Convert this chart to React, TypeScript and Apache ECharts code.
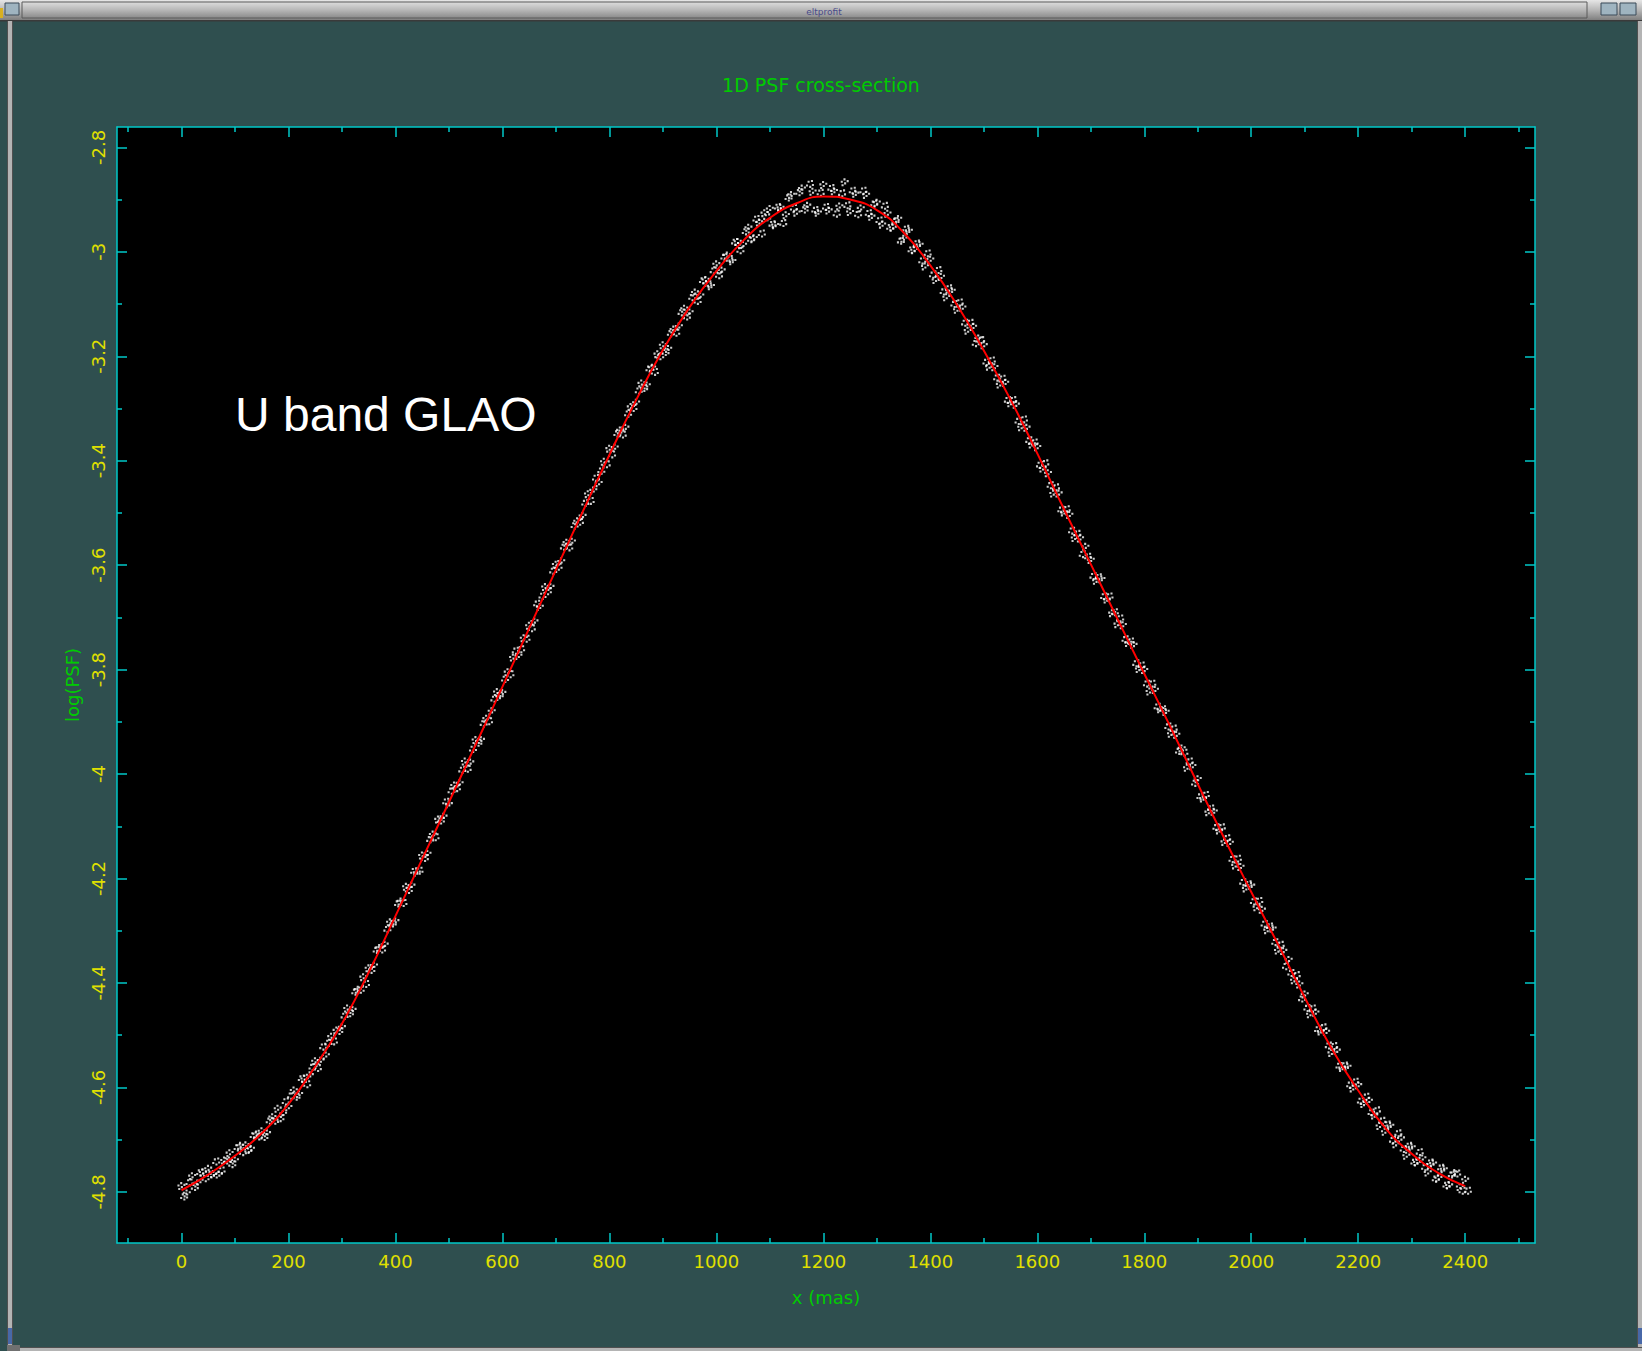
import React, { useEffect, useRef } from "react";
import * as echarts from "echarts";

// ---- axis extents and tick marks ----
const X_MIN = -120.5;
const X_MAX = 2530.5;
const Y_MIN = -4.898;
const Y_MAX = -2.761;

const xMajorTicks = [0, 200, 400, 600, 800, 1000, 1200, 1400, 1600, 1800, 2000, 2200, 2400];
const xMinorTicks = [-100, 100, 300, 500, 700, 900, 1100, 1300, 1500, 1700, 1900, 2100, 2300, 2500];
const yMajorTicks = [-4.8, -4.6, -4.4, -4.2, -4, -3.8, -3.6, -3.4, -3.2, -3, -2.8];
const yMinorTicks = [-4.7, -4.5, -4.3, -4.1, -3.9, -3.7, -3.5, -3.3, -3.1, -2.9];

// ---- fitted profile (red curve), x in mas ----
const fitX = [
  0, 50, 100, 150, 200, 250, 300, 350, 400, 450, 500, 550, 600, 650, 700, 750, 800,
  850, 900, 950, 1000, 1050, 1100, 1150, 1200, 1250, 1300, 1350, 1400, 1450, 1500,
  1550, 1600, 1650, 1700, 1750, 1800, 1850, 1900, 1950, 2000, 2050, 2100, 2150, 2200,
  2250, 2300, 2350, 2400,
];
const fitY = [
  -4.797, -4.767, -4.731, -4.688, -4.632, -4.56, -4.478, -4.38, -4.272, -4.163, -4.054,
  -3.944, -3.833, -3.721, -3.609, -3.498, -3.389, -3.284, -3.188, -3.106, -3.037, -2.979,
  -2.935, -2.907, -2.894, -2.9, -2.92, -2.963, -3.026, -3.102, -3.189, -3.283, -3.386,
  -3.493, -3.598, -3.703, -3.808, -3.912, -4.019, -4.124, -4.226, -4.326, -4.428, -4.525,
  -4.606, -4.677, -4.727, -4.764, -4.789,
];

// ---- measured samples (white points): set A at x = 0,10,..,2400; set B at x = 5,15,..,2405 ----
const SAMPLE_STEP = 10;
const samplesA = [
  -4.789, -4.803, -4.77, -4.784, -4.763,
  -4.756, -4.767, -4.767, -4.74, -4.726,
  -4.74, -4.712, -4.711, -4.718, -4.69,
  -4.684, -4.688, -4.657, -4.641, -4.651,
  -4.638, -4.606, -4.613, -4.584, -4.577,
  -4.55, -4.549, -4.539, -4.503, -4.491,
  -4.485, -4.449, -4.452, -4.413, -4.389,
  -4.372, -4.367, -4.333, -4.327, -4.284,
  -4.282, -4.244, -4.216, -4.214, -4.189,
  -4.156, -4.153, -4.116, -4.087, -4.082,
  -4.058, -4.022, -4.018, -3.976, -3.978,
  -3.935, -3.935, -3.894, -3.88, -3.843,
  -3.845, -3.805, -3.777, -3.774, -3.74,
  -3.716, -3.708, -3.68, -3.642, -3.642,
  -3.599, -3.593, -3.557, -3.555, -3.516,
  -3.506, -3.464, -3.457, -3.443, -3.402,
  -3.377, -3.375, -3.342, -3.337, -3.297,
  -3.289, -3.252, -3.256, -3.222, -3.196,
  -3.179, -3.186, -3.149, -3.143, -3.109,
  -3.116, -3.078, -3.084, -3.054, -3.066,
  -3.024, -3.036, -3.007, -3.018, -2.981,
  -2.987, -2.954, -2.974, -2.944, -2.926,
  -2.918, -2.949, -2.916, -2.93, -2.891,
  -2.925, -2.879, -2.912, -2.885, -2.925,
  -2.872, -2.921, -2.884, -2.913, -2.867,
  -2.924, -2.889, -2.917, -2.891, -2.933,
  -2.906, -2.948, -2.927, -2.954, -2.937,
  -2.975, -2.96, -2.997, -2.987, -3.028,
  -3.015, -3.054, -3.048, -3.087, -3.075,
  -3.111, -3.107, -3.151, -3.144, -3.166,
  -3.179, -3.22, -3.221, -3.254, -3.251,
  -3.29, -3.293, -3.336, -3.337, -3.369,
  -3.374, -3.415, -3.424, -3.463, -3.463,
  -3.499, -3.504, -3.548, -3.549, -3.565,
  -3.59, -3.63, -3.627, -3.666, -3.692,
  -3.713, -3.715, -3.749, -3.753, -3.799,
  -3.801, -3.842, -3.839, -3.876, -3.881,
  -3.923, -3.925, -3.951, -3.988, -3.985,
  -4.01, -4.047, -4.073, -4.072, -4.108,
  -4.13, -4.132, -4.175, -4.178, -4.219,
  -4.214, -4.255, -4.26, -4.299, -4.296,
  -4.338, -4.339, -4.356, -4.395, -4.403,
  -4.422, -4.46, -4.457, -4.493, -4.494,
  -4.534, -4.53, -4.563, -4.561, -4.602,
  -4.596, -4.632, -4.626, -4.654, -4.674,
  -4.685, -4.674, -4.709, -4.698, -4.731,
  -4.715, -4.744, -4.736, -4.763, -4.746,
  -4.774, -4.757, -4.788, -4.764, -4.791,
  -4.777,
];
const samplesB = [
  -4.809, -4.782, -4.791, -4.763, -4.774,
  -4.766, -4.742, -4.759, -4.74, -4.747,
  -4.715, -4.724, -4.72, -4.692, -4.694,
  -4.695, -4.664, -4.664, -4.659, -4.627,
  -4.616, -4.618, -4.583, -4.594, -4.561,
  -4.563, -4.522, -4.515, -4.512, -4.492,
  -4.463, -4.458, -4.417, -4.413, -4.402,
  -4.375, -4.337, -4.336, -4.297, -4.286,
  -4.248, -4.247, -4.222, -4.186, -4.185,
  -4.161, -4.125, -4.121, -4.089, -4.053,
  -4.032, -4.027, -3.992, -3.99, -3.952,
  -3.94, -3.903, -3.899, -3.856, -3.849,
  -3.818, -3.809, -3.764, -3.761, -3.741,
  -3.721, -3.674, -3.659, -3.65, -3.611,
  -3.603, -3.565, -3.566, -3.524, -3.517,
  -3.481, -3.477, -3.433, -3.419, -3.407,
  -3.388, -3.348, -3.35, -3.31, -3.299,
  -3.266, -3.261, -3.224, -3.23, -3.2,
  -3.192, -3.156, -3.155, -3.116, -3.124,
  -3.087, -3.094, -3.055, -3.062, -3.036,
  -3.045, -3.01, -3.014, -2.981, -2.997,
  -2.961, -2.976, -2.937, -2.965, -2.934,
  -2.947, -2.914, -2.945, -2.896, -2.916,
  -2.886, -2.919, -2.87, -2.92, -2.887,
  -2.914, -2.878, -2.927, -2.888, -2.911,
  -2.883, -2.928, -2.883, -2.926, -2.908,
  -2.94, -2.912, -2.953, -2.941, -2.979,
  -2.956, -2.996, -2.984, -3.017, -3.003,
  -3.044, -3.035, -3.076, -3.07, -3.1,
  -3.097, -3.136, -3.136, -3.175, -3.169,
  -3.211, -3.208, -3.241, -3.243, -3.284,
  -3.284, -3.324, -3.321, -3.361, -3.365,
  -3.408, -3.405, -3.447, -3.451, -3.494,
  -3.493, -3.534, -3.54, -3.579, -3.584,
  -3.621, -3.623, -3.66, -3.66, -3.69,
  -3.702, -3.742, -3.746, -3.788, -3.792,
  -3.827, -3.827, -3.871, -3.876, -3.909,
  -3.913, -3.956, -3.959, -3.976, -4.017,
  -4.043, -4.04, -4.066, -4.102, -4.102,
  -4.123, -4.163, -4.162, -4.207, -4.211,
  -4.244, -4.243, -4.287, -4.292, -4.322,
  -4.327, -4.368, -4.381, -4.385, -4.43,
  -4.448, -4.449, -4.489, -4.485, -4.52,
  -4.521, -4.559, -4.558, -4.595, -4.589,
  -4.626, -4.618, -4.648, -4.644, -4.664,
  -4.671, -4.701, -4.688, -4.718, -4.712,
  -4.743, -4.724, -4.753, -4.744, -4.775,
  -4.754, -4.787, -4.767, -4.765, -4.798,
  -4.798,
];

// ---- colours ----
const PANEL = "#2f4f4f";
const FRAME = "#00c8c8";
const TICK_LABEL = "#e0e000";
const CAPTION = "#00cc00";
const FONT = "DejaVu Sans";

const W = 1642;
const H = 1351;
const GRID = { left: 117, top: 127, width: 1418, height: 1116 };

// speckled pixel-cluster markers
const SPECKLE_A = "path://M0 3h2.6v2.6H0z M3.4 0h2.6v2.6H3.4z M4.2 5h2.6v2.6H4.2z M7.4 2.2h2.6v2.6H7.4z M1 7.4h2.6v2.6H1z";
const SPECKLE_B = "path://M0 5.6h2.6v2.6H0z M2 1h2.6v2.6H2z M6.2 0h2.6v2.6H6.2z M7.4 5h2.6v2.6H7.4z M4 7.4h2.6v2.6H4z";

function frameAxis(dim: "x" | "y", position: string, ticks: number[], len: number, withLine: boolean) {
  const isX = dim === "x";
  return {
    type: "value",
    position,
    min: isX ? X_MIN : Y_MIN,
    max: isX ? X_MAX : Y_MAX,
    axisLine: { show: withLine, onZero: false, lineStyle: { color: FRAME, width: 1.5 } },
    axisTick: { show: true, inside: true, length: len, customValues: ticks, lineStyle: { color: FRAME, width: 1.5 } },
    axisLabel: { show: false },
    splitLine: { show: false },
  };
}

function rect(x: number, y: number, w: number, h: number, style: any) {
  return { type: "rect", shape: { x, y, width: w, height: h }, style, silent: true };
}

export default function App() {
  const ref = useRef<HTMLDivElement>(null);

  useEffect(() => {
    document.body.style.margin = "0";
    document.body.style.background = PANEL;
    if (!ref.current) return;
    const chart = echarts.init(ref.current, undefined, { renderer: "svg" });

    const pointsA = samplesA.map((y, i) => [i * SAMPLE_STEP, y]);
    const pointsB = samplesB.map((y, i) => [i * SAMPLE_STEP + SAMPLE_STEP / 2, y]);
    const fitLine = fitX.map((x, i) => [x, fitY[i]]);

    const xMain: any = frameAxis("x", "bottom", xMajorTicks, 10, true);
    xMain.axisLabel = {
      show: true,
      customValues: xMajorTicks,
      color: TICK_LABEL,
      fontFamily: FONT,
      fontSize: 18,
      margin: 9,
      formatter: (v: number) => String(v),
    };
    xMain.name = "x (mas)";
    xMain.nameLocation = "middle";
    xMain.nameGap = 45;
    xMain.nameTextStyle = { color: CAPTION, fontFamily: FONT, fontSize: 18 };

    const yMain: any = frameAxis("y", "left", yMajorTicks, 10, true);
    yMain.axisLabel = {
      show: true,
      customValues: yMajorTicks,
      color: TICK_LABEL,
      fontFamily: FONT,
      fontSize: 18,
      rotate: 90,
      margin: 10,
      formatter: (v: number) => String(Number(v.toFixed(1))),
    };
    yMain.name = "log(PSF)";
    yMain.nameLocation = "middle";
    yMain.nameGap = 34;
    yMain.nameTextStyle = { color: CAPTION, fontFamily: FONT, fontSize: 18 };

    const sampleSeries = (data: number[][], symbol: string) => ({
      type: "scatter",
      xAxisIndex: 0,
      yAxisIndex: 0,
      data,
      symbol,
      symbolSize: 8,
      itemStyle: { color: "#ffffff" },
      silent: true,
    });

    chart.setOption({
      animation: false,
      backgroundColor: PANEL,
      title: {
        text: "1D PSF cross-section",
        left: "center",
        top: 70,
        textStyle: { color: CAPTION, fontFamily: FONT, fontSize: 19, fontWeight: "normal" },
      },
      grid: {
        ...GRID,
        show: true,
        backgroundColor: "#000000",
        borderWidth: 0,
        containLabel: false,
        outerBoundsMode: "none",
      },
      xAxis: [
        xMain,
        frameAxis("x", "bottom", xMinorTicks, 5, false),
        frameAxis("x", "top", xMajorTicks, 10, true),
        frameAxis("x", "top", xMinorTicks, 5, false),
      ],
      yAxis: [
        yMain,
        frameAxis("y", "left", yMinorTicks, 5, false),
        frameAxis("y", "right", yMajorTicks, 10, true),
        frameAxis("y", "right", yMinorTicks, 5, false),
      ],
      series: [
        sampleSeries(pointsA, SPECKLE_A),
        sampleSeries(pointsB, SPECKLE_B),
        {
          type: "line",
          xAxisIndex: 0,
          yAxisIndex: 0,
          data: fitLine,
          smooth: true,
          showSymbol: false,
          lineStyle: { color: "#ff0000", width: 2 },
          z: 5,
        },
      ],
      graphic: [
        // window title bar
        rect(0, 0, W, 21, {
          fill: new echarts.graphic.LinearGradient(0, 0, 0, 1, [
            { offset: 0, color: "#e6e6e6" },
            { offset: 0.5, color: "#b4b4b4" },
            { offset: 1, color: "#7a7a7a" },
          ]),
        }),
        rect(0, 20, W, 1.5, { fill: "#3a3a3a" }),
        rect(22, 2, 1565, 16, { fill: "none", stroke: "#5a5a5a", lineWidth: 1 }),
        rect(0, 8, 3, 10, { fill: "#d8b020" }),
        rect(5, 3, 14, 12, { fill: "#9fb4c0", stroke: "#3a4a58", lineWidth: 1 }),
        rect(1601, 3, 16, 12, { fill: "#9fb4c0", stroke: "#3a4a58", lineWidth: 1 }),
        rect(1620, 3, 16, 12, { fill: "#9fb4c0", stroke: "#3a4a58", lineWidth: 1 }),
        {
          type: "text",
          x: 824,
          y: 12,
          style: {
            text: "eltprofit",
            fill: "#4a4a8a",
            font: "9px " + FONT,
            textAlign: "center",
            textVerticalAlign: "middle",
          },
          silent: true,
        },
        // window side and bottom borders
        rect(7, 21, 6, H - 21, { fill: "#b4b4b4" }),
        rect(7, 21, 1, H - 21, { fill: "#505050" }),
        rect(12, 21, 1, H - 21, { fill: "#505050" }),
        rect(8, 1328, 4, 16, { fill: "#4868a8" }),
        rect(1637, 21, 5, H - 21, { fill: "#b4b4b4" }),
        rect(1637, 21, 1, H - 21, { fill: "#505050" }),
        rect(1638, 1328, 4, 16, { fill: "#4868a8" }),
        rect(20, 1348, W - 20, 3, { fill: "#b4b4b4" }),
        rect(20, 1347, W - 20, 1, { fill: "#505050" }),
        rect(7, 1345, 13, 6, { fill: "#707070" }),
        // band label inside the plot
        {
          type: "text",
          x: 235,
          y: 414,
          style: {
            text: "U band GLAO",
            fill: "#ffffff",
            font: "48px 'Liberation Sans'",
            textVerticalAlign: "middle",
          },
          silent: true,
        },
      ],
    });

    return () => chart.dispose();
  }, []);

  return <div ref={ref} style={{ width: W, height: H, position: "absolute", left: 0, top: 0 }} />;
}
